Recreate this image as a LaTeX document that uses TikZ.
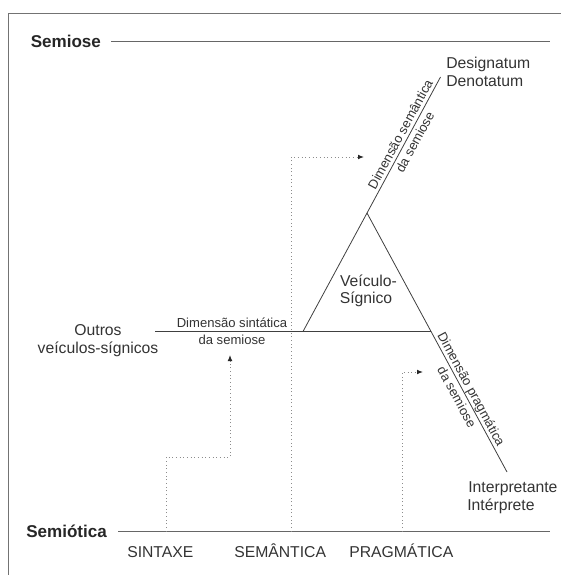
\documentclass[tikz,border=0pt]{standalone}
\usepackage{fontspec}
\setmainfont{Liberation Sans}
\usetikzlibrary{arrows.meta}
\begin{document}
\begin{tikzpicture}[x=0.75pt,y=-0.75pt,
  eixo/.style={black!60,line width=0.75pt},
  lado/.style={black!75,line width=0.6pt},
  pontos/.style={black!45,line width=0.75pt,dotted},
  seta/.style={pontos,-{Latex[length=4.5pt,width=3.6pt,color=black!85]}},
  titulo/.style={font=\bfseries\fontsize{12.8}{15}\selectfont,text=black!85,inner sep=0pt},
  termo/.style={font=\fontsize{11.8}{13.5}\selectfont,text=black!80,inner sep=0pt},
  dim/.style={font=\fontsize{9.8}{12.4}\selectfont,text=black!80,align=center,inner sep=0pt}]
\useasboundingbox (0,0) rectangle (561,575);
\draw[black!55,line width=0.8pt] (8.3,575) -- (8.3,13.3) -- (561,13.3);
\node[titulo,anchor=base west] (semiose) at (30.5,47) {Semiose};
\node[titulo,anchor=base west] (semiotica) at (26,537) {Semiótica};
\coordinate (s0) at (111,41.7);
\coordinate (s1) at (550,41.7);
\coordinate (b0) at (118,531.5);
\coordinate (b1) at (550,531.5);
\draw[eixo] (s0) -- (s1);
\draw[eixo] (b0) -- (b1);
\coordinate (apice) at (367,213);
\coordinate (esq) at (303,331.5);
\coordinate (dir) at (431,331.5);
\coordinate (topo) at (440.5,77);
\coordinate (fim) at (507,472);
\coordinate (outros) at (155,331.5);
\draw[lado] (esq) -- (topo) node[dim,sloped,pos=0.76] (semdim) {Dimensão semântica\\da semiose};
\draw[lado] (apice) -- (fim) node[dim,sloped,pos=0.695] (pragdim) {Dimensão pragmática\\da semiose};
\draw[lado] (outros) -- (dir) node[dim,pos=0.279] (sintdim) {Dimensão sintática\\da semiose};
\node[termo,anchor=base west] (desig) at (446,68.3) {Designatum};
\node[termo,anchor=base west] (denot) at (446,86) {Denotatum};
\node[termo,anchor=base west] (interp) at (468,492) {Interpretante};
\node[termo,anchor=base west] (interpr) at (467,510) {Intérprete};
\node[termo,anchor=base] (outros1) at (98,335.5) {Outros};
\node[termo,anchor=base] (outros2) at (98,353.5) {veículos-sígnicos};
\node[termo,anchor=base] (veic1) at (368.5,286) {Veículo-};
\node[termo,anchor=base] (veic2) at (366,303.5) {Sígnico};
\node[termo,anchor=base west] (sintaxe) at (127,557.3) {SINTAXE};
\node[termo,anchor=base west] (semantica) at (234,557.3) {SEMÂNTICA};
\node[termo,anchor=base west] (pragmatica) at (349,557.3) {PRAGMÁTICA};
\coordinate (sx) at (166,531.5);
\coordinate (sxa) at (230,355);
\coordinate (se) at (291,531.5);
\coordinate (sea) at (364,157);
\coordinate (pr) at (402,531.5);
\coordinate (pra) at (423,372);
\draw[seta] (sx) -- ++(0,-74.5) -| (sxa);
\draw[seta] (se) |- (sea);
\draw[seta] (pr) |- (pra);
\end{tikzpicture}
\end{document}
